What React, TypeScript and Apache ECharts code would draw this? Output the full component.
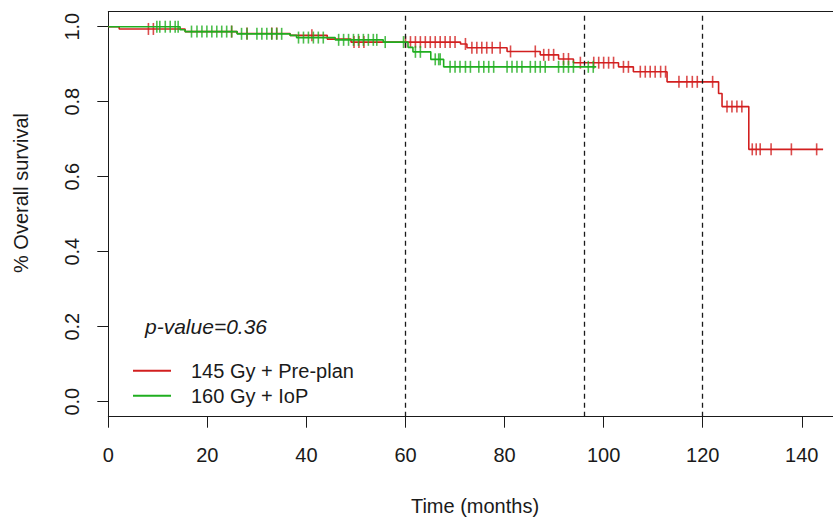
import React, { useEffect, useRef } from "react";
import * as echarts from "echarts";

// Kaplan-Meier step data (time in months, survival proportion)
const redTimes = [0, 2.2, 15.5, 26, 36.7, 44.2, 49, 71.1, 72.4, 80.5, 87.2, 90.9, 93.9, 103, 106, 112.8, 123.2, 123.9, 129.3, 144.3];
const redSurv = [1, 0.994, 0.987, 0.982, 0.977, 0.967, 0.959, 0.954, 0.944, 0.934, 0.925, 0.914, 0.904, 0.893, 0.88, 0.853, 0.822, 0.787, 0.673, 0.673];
const redCensor = [8.1, 9.1, 24.9, 28, 33, 34, 41.1, 49.6, 50.6, 51.6, 60, 61, 62, 63, 64, 65, 66, 67, 68, 69, 70, 72.1, 73.4, 74.4, 75.4, 76.4, 77.5, 79.1, 81.2, 86.2, 87.9, 88.9, 89.9, 91.9, 92.9, 95.3, 98, 99, 100, 101, 102, 104, 105, 107.4, 108.4, 109.4, 110.4, 111.5, 112.5, 115.2, 116.8, 117.9, 118.9, 122, 124.9, 125.9, 126.9, 127.9, 130, 130.8, 131.6, 133.8, 137.9, 143];

const greenTimes = [0, 14.5, 15.5, 26, 36.7, 38, 45.8, 55.5, 60.5, 61.5, 65.1, 67.7, 98.5];
const greenSurv = [1, 0.992, 0.987, 0.981, 0.977, 0.971, 0.965, 0.959, 0.945, 0.933, 0.913, 0.893, 0.893];
const greenCensor = [9.8, 10.4, 11.5, 12.5, 13.5, 14.1, 16.8, 17.9, 18.9, 19.9, 20.9, 21.9, 22.9, 23.9, 24.9, 26.9, 28, 30, 31, 32, 33, 34, 35, 38.4, 39.4, 40.4, 41.4, 42.4, 43.4, 46.5, 47.5, 48.5, 49.5, 50.5, 51.5, 52.5, 53.5, 54.2, 55.9, 59.6, 62, 63, 66, 66.7, 67, 69, 70, 71, 72.1, 73.1, 74.8, 75.8, 76.8, 77.8, 80.5, 81.5, 82.5, 83.5, 85.2, 86.2, 87.2, 88.2, 90.9, 91.9, 92.9, 93.9, 96.9, 97.9];

const xTicks = [0, 20, 40, 60, 80, 100, 120, 140];
const yTicks = [0, 0.2, 0.4, 0.6, 0.8, 1.0];
const refLines = [60, 96, 120];

const seriesNames = ["145 Gy + Pre-plan", "160 Gy + IoP"];
const pValueText = "p-value=0.36";
const xTitle = "Time (months)";
const yTitle = "% Overall survival";

const RED = "#d21f1f";
const GREEN = "#1fae1f";
const INK = "#1a1a1a";
const FONT = "'Liberation Sans', Arial, Helvetica, sans-serif";

function survAt(times: number[], vals: number[], t: number) {
  let v = vals[0];
  for (let i = 0; i < times.length; i++) {
    if (times[i] <= t) v = vals[i];
  }
  return v;
}

export default function App() {
  const ref = useRef<HTMLDivElement>(null);

  useEffect(() => {
    document.body.style.margin = "0";
    if (!ref.current) return;
    const chart = echarts.init(ref.current, undefined, { renderer: "svg" });

    const redLine = redTimes.map((t, i) => [t, redSurv[i]]);
    const greenLine = greenTimes.map((t, i) => [t, greenSurv[i]]);
    const redCens = redCensor.map((t) => [t, survAt(redTimes, redSurv, t)]);
    const greenCens = greenCensor.map((t) => [t, survAt(greenTimes, greenSurv, t)]);

    const axisLineStyle = { color: INK, width: 1 };

    chart.setOption({
      animation: false,
      backgroundColor: "#ffffff",
      grid: { left: 108.3, right: 0, top: 11.7, height: 405, containLabel: false },
      xAxis: [
        {
          type: "value",
          min: 0,
          max: 146.3,
          position: "bottom",
          axisLine: { show: true, onZero: false, lineStyle: axisLineStyle },
          axisTick: { show: true, length: 11, customValues: xTicks, lineStyle: axisLineStyle },
          axisLabel: {
            customValues: xTicks,
            margin: 28,
            fontSize: 20,
            fontFamily: FONT,
            color: INK,
            formatter: (v: number) => String(v),
          },
          splitLine: { show: false },
        },
        {
          type: "value",
          min: 0,
          max: 146.3,
          position: "top",
          axisLine: { show: true, onZero: false, lineStyle: axisLineStyle },
          axisTick: { show: false },
          axisLabel: { show: false },
          splitLine: { show: false },
        },
      ],
      yAxis: {
        type: "value",
        min: -0.04,
        max: 1.04,
        axisLine: { show: true, onZero: false, lineStyle: axisLineStyle },
        axisTick: { show: true, length: 11, customValues: yTicks, lineStyle: axisLineStyle },
        axisLabel: {
          customValues: yTicks,
          rotate: 90,
          margin: 26,
          fontSize: 20,
          fontFamily: FONT,
          color: INK,
          formatter: (v: number) => v.toFixed(1),
        },
        splitLine: { show: false },
      },
      legend: {
        data: seriesNames,
        orient: "vertical",
        left: 128,
        top: 355.7,
        itemWidth: 38,
        itemHeight: 2,
        itemGap: 5,
        icon: "rect",
        textStyle: { fontSize: 20, fontFamily: FONT, color: INK, lineHeight: 20, padding: [0, 0, 0, 15] },
        selectedMode: false,
      },
      graphic: [
        {
          type: "text",
          x: 145,
          y: 326,
          style: {
            text: pValueText,
            fontSize: 21,
            fontStyle: "italic",
            fontFamily: FONT,
            fill: INK,
            textAlign: "left",
            textVerticalAlign: "middle",
          },
        },
        {
          type: "text",
          x: 475,
          y: 506,
          style: {
            text: xTitle,
            fontSize: 20,
            fontFamily: FONT,
            fill: INK,
            textAlign: "center",
            textVerticalAlign: "middle",
          },
        },
        {
          type: "text",
          x: 21,
          y: 193,
          rotation: Math.PI / 2,
          style: {
            text: yTitle,
            fontSize: 20,
            fontFamily: FONT,
            fill: INK,
            textAlign: "center",
            textVerticalAlign: "middle",
          },
        },
      ],
      series: [
        {
          name: seriesNames[0],
          type: "line",
          step: "end",
          data: redLine,
          showSymbol: false,
          symbol: "none",
          lineStyle: { color: RED, width: 1.6 },
          itemStyle: { color: RED },
          silent: true,
          z: 2,
          markLine: {
            silent: true,
            symbol: "none",
            label: { show: false },
            lineStyle: { color: INK, width: 1.3, type: [5, 4] },
            data: refLines.map((x) => ({ xAxis: x })),
          },
        },
        {
          name: seriesNames[0] + " censored",
          type: "scatter",
          data: redCens,
          symbol: "rect",
          symbolSize: [1.6, 12],
          itemStyle: { color: RED },
          silent: true,
          z: 2,
        },
        {
          name: seriesNames[1],
          type: "line",
          step: "end",
          data: greenLine,
          showSymbol: false,
          symbol: "none",
          lineStyle: { color: GREEN, width: 1.6 },
          itemStyle: { color: GREEN },
          silent: true,
          z: 3,
        },
        {
          name: seriesNames[1] + " censored",
          type: "scatter",
          data: greenCens,
          symbol: "rect",
          symbolSize: [1.6, 12],
          itemStyle: { color: GREEN },
          silent: true,
          z: 3,
        },
      ],
    });

    return () => {
      chart.dispose();
    };
  }, []);

  return <div ref={ref} style={{ width: 833, height: 520 }} />;
}
